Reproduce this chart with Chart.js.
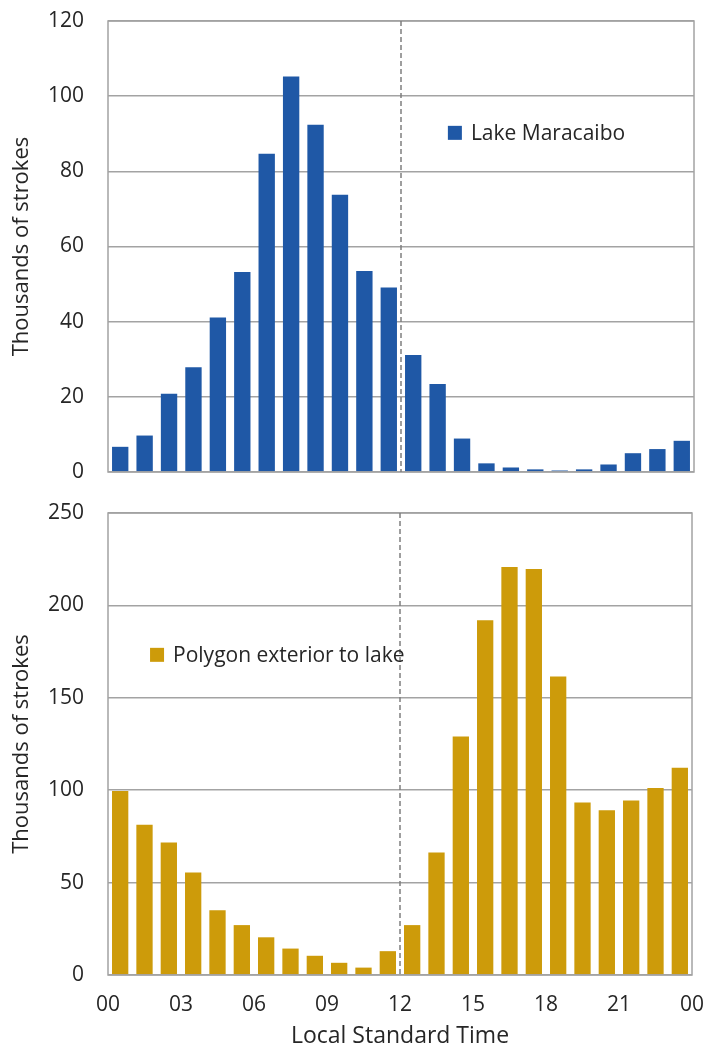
<!DOCTYPE html>
<html>
<head>
<meta charset="utf-8">
<script src="https://cdn.jsdelivr.net/npm/chart.js@4/dist/chart.umd.min.js"></script>
<style>
  body { margin: 0; background: #fff; }
  #wrap { position: relative; width: 708px; height: 1050px; }
  canvas { position: absolute; left: 0; }
  #lakeChart { top: 0; }
  #outsideChart { top: 490px; }
</style>
</head>
<body>
<div id="wrap">
  <canvas id="lakeChart" width="708" height="490"></canvas>
  <canvas id="outsideChart" width="708" height="560"></canvas>
</div>
<script>
// hour of day (local standard time), one bar per hour
const hours = [0, 1, 2, 3, 4, 5, 6, 7, 8, 9, 10, 11, 12, 13, 14, 15, 16, 17, 18, 19, 20, 21, 22, 23];

// thousands of strokes
const lakeStrokes = [6.7, 9.7, 20.8, 27.9, 41.1, 53.2, 84.7, 105.2, 92.4, 73.8, 53.5, 49.1,
                     31.1, 23.4, 8.9, 2.3, 1.2, 0.7, 0.4, 0.7, 2.0, 5.0, 6.1, 8.3];
const outsideStrokes = [99.5, 81.3, 71.7, 55.5, 35.1, 27.0, 20.4, 14.3, 10.4, 6.6, 4.0, 12.9,
                        27.0, 66.3, 129.1, 191.9, 220.8, 219.7, 161.5, 93.3, 89.2, 94.4, 101.2, 112.1];

const lakeTicks = [0, 20, 40, 60, 80, 100, 120];
const outsideTicks = [0, 50, 100, 150, 200, 250];
const noonHour = 12;

const FONT = "'Open Sans', sans-serif";
const TEXT = '#262626';
const GRID = '#a3a3a3';

// frame, noon line and in-plot legend
const framePlugin = {
  id: 'frame',
  afterDatasetsDraw(chart, args, opts) {
    const { ctx, chartArea: a, scales } = chart;
    ctx.save();
    ctx.strokeStyle = GRID;
    ctx.lineWidth = 1.5;
    ctx.strokeRect(a.left, a.top, a.right - a.left, a.bottom - a.top);

    const nx = scales.x.getPixelForValue(noonHour);
    ctx.strokeStyle = '#7f7f7f';
    ctx.lineWidth = 1.5;
    ctx.setLineDash([5, 3]);
    ctx.beginPath();
    ctx.moveTo(nx, a.top);
    ctx.lineTo(nx, a.bottom);
    ctx.stroke();
    ctx.setLineDash([]);

    const ds = chart.data.datasets[0];
    const lx = a.left + opts.fx * (a.right - a.left);
    const ly = a.top + opts.fy * (a.bottom - a.top);
    ctx.fillStyle = ds.backgroundColor;
    ctx.fillRect(lx, ly - 7, 14, 14);
    ctx.fillStyle = TEXT;
    ctx.font = '21px ' + FONT;
    ctx.textBaseline = 'middle';
    ctx.textAlign = 'left';
    ctx.fillText(ds.label, lx + 23, ly + 1);
    ctx.restore();
  }
};

function makeChart(id, label, values, color, yTicks, opt) {
  const ctx = document.getElementById(id).getContext('2d');
  const yMax = yTicks[yTicks.length - 1];
  const step = yTicks[1] - yTicks[0];
  return new Chart(ctx, {
    type: 'bar',
    data: {
      datasets: [{
        label: label,
        data: hours.map((h, i) => ({ x: h + 0.5, y: values[i] })),
        backgroundColor: color,
        borderWidth: 0,
        categoryPercentage: 1.0,
        barPercentage: 0.67
      }]
    },
    options: {
      responsive: false,
      animation: false,
      layout: { padding: { top: opt.padTop, right: opt.padRight, left: 0, bottom: opt.padBottom } },
      plugins: {
        legend: { display: false },
        tooltip: { enabled: false },
        frame: { fx: opt.legendX, fy: opt.legendY }
      },
      scales: {
        x: {
          type: 'linear',
          display: opt.showX,
          min: 0,
          max: 24,
          offset: false,
          grid: { display: false, offset: false, drawTicks: true, tickLength: 15 },
          border: { display: false },
          ticks: {
            stepSize: 3,
            autoSkip: false,
            maxRotation: 0,
            padding: 2,
            color: TEXT,
            font: { family: FONT, size: 21 },
            callback: v => String(v % 24).padStart(2, '0')
          },
          title: {
            display: true,
            text: 'Local Standard Time',
            color: TEXT,
            font: { family: FONT, size: 23 },
            padding: { top: 2, bottom: 0 }
          },
          afterFit: s => { s.height = opt.xHeight; }
        },
        y: {
          min: 0,
          max: yMax,
          grid: { color: GRID, lineWidth: 1.5, drawTicks: true, tickLength: 22, tickColor: 'rgba(0,0,0,0)' },
          border: { display: false },
          ticks: {
            stepSize: step,
            padding: 2,
            color: TEXT,
            font: { family: FONT, size: 21 }
          },
          title: {
            display: true,
            text: 'Thousands of strokes',
            color: TEXT,
            font: { family: FONT, size: 22 },
            padding: { top: 9, bottom: 0 }
          },
          afterFit: s => { s.width = 108; }
        }
      }
    },
    plugins: [framePlugin]
  });
}

makeChart('lakeChart', 'Lake Maracaibo', lakeStrokes, '#1f58a6', lakeTicks,
  { padTop: 21, padRight: 14, padBottom: 18, xHeight: 0, showX: false, legendX: 0.58, legendY: 0.248 });

makeChart('outsideChart', 'Polygon exterior to lake', outsideStrokes, '#cd9b0a', outsideTicks,
  { padTop: 23, padRight: 16, padBottom: 0, xHeight: 75, showX: true, legendX: 0.072, legendY: 0.307 });
</script>
</body>
</html>
